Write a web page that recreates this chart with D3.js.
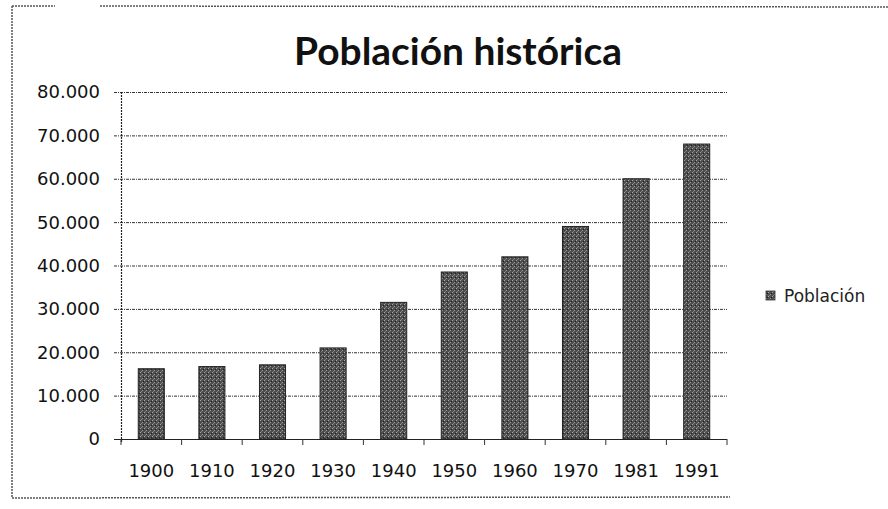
<!DOCTYPE html>
<html>
<head>
<meta charset="utf-8">
<script src="https://cdn.jsdelivr.net/npm/d3@7"></script>
<style>
  html, body { margin: 0; padding: 0; background: #fff; }
  svg { display: block; }
</style>
</head>
<body>
<svg id="chart" width="888" height="509"></svg>
<script>
// ---- data ----
const title = "Población histórica";
const seriesName = "Población";
const years = ["1900", "1910", "1920", "1930", "1940", "1950", "1960", "1970", "1981", "1991"];
const population = [16200, 16700, 17100, 21000, 31500, 38500, 42000, 49000, 60000, 68000];
const yTicks = [0, 10000, 20000, 30000, 40000, 50000, 60000, 70000, 80000];

// ---- layout ----
const W = 888, H = 509;
const plot = { left: 121, right: 727, top: 92, bottom: 439 };

const svg = d3.select("#chart");

// bar texture (scanned halftone look)
const defs = svg.append("defs");
const pat = defs.append("pattern")
  .attr("id", "halftone").attr("patternUnits", "userSpaceOnUse")
  .attr("width", 4).attr("height", 4);
pat.append("rect").attr("width", 4).attr("height", 4).attr("fill", "#4e4e4e");
pat.append("rect").attr("x", 0).attr("y", 0).attr("width", 1).attr("height", 1).attr("fill", "#a8a8a8");
pat.append("rect").attr("x", 2).attr("y", 2).attr("width", 1).attr("height", 1).attr("fill", "#9a9a9a");
pat.append("rect").attr("x", 3).attr("y", 1).attr("width", 1).attr("height", 1).attr("fill", "#1e1e1e");
pat.append("rect").attr("x", 1).attr("y", 3).attr("width", 1).attr("height", 1).attr("fill", "#7e7e7e");

// outer chart frame (partial, as in the scan)
const frame = svg.append("g").attr("stroke", "#555").attr("stroke-width", 1.5).attr("fill", "none")
  .attr("stroke-dasharray", "2,1");
frame.append("line").attr("x1", 12).attr("y1", 6).attr("x2", 12).attr("y2", 498);
frame.append("line").attr("x1", 12).attr("y1", 6).attr("x2", 55).attr("y2", 6);
frame.append("line").attr("x1", 100).attr("y1", 6).attr("x2", 888).attr("y2", 7);
frame.append("line").attr("x1", 12).attr("y1", 498).attr("x2", 730).attr("y2", 497);

// scales
const x = d3.scaleBand().domain(years).range([plot.left, plot.right])
  .paddingInner(0.57).paddingOuter(0.285);
const y = d3.scaleLinear().domain([0, 80000]).range([plot.bottom, plot.top]);

const fmt = v => v === 0 ? "0" : d3.format(",")(v).replace(/,/g, ".");

// gridlines
svg.append("g")
  .selectAll("line").data(yTicks).join("line")
  .attr("x1", plot.left - 7).attr("x2", plot.right)
  .attr("y1", d => y(d) + 0.5).attr("y2", d => y(d) + 0.5)
  .attr("stroke", "#333").attr("stroke-width", 1)
  .attr("stroke-dasharray", "3,1,1,1");

// y axis labels
svg.append("g")
  .selectAll("text").data(yTicks).join("text")
  .attr("x", plot.left - 21).attr("y", d => y(d))
  .attr("dy", "0.36em")
  .attr("text-anchor", "end")
  .attr("font-family", "DejaVu Sans, Verdana, sans-serif")
  .attr("font-size", 18)
  .attr("fill", "#111")
  .text(fmt);

// y axis line
svg.append("line")
  .attr("x1", plot.left + 0.5).attr("x2", plot.left + 0.5)
  .attr("y1", plot.top).attr("y2", plot.bottom + 4)
  .attr("stroke", "#222").attr("stroke-width", 1.2)
  .attr("stroke-dasharray", "2,1");

// bars
svg.append("g")
  .selectAll("rect").data(years).join("rect")
  .attr("x", d => x(d))
  .attr("y", (d, i) => y(population[i]))
  .attr("width", x.bandwidth())
  .attr("height", (d, i) => y(0) - y(population[i]))
  .attr("fill", "url(#halftone)")
  .attr("stroke", "#222").attr("stroke-width", 1);

// x axis baseline + tick marks between categories
svg.append("line")
  .attr("x1", plot.left - 7).attr("x2", plot.right)
  .attr("y1", y(0) + 0.5).attr("y2", y(0) + 0.5)
  .attr("stroke", "#222").attr("stroke-width", 1.2);
const step = x.step();
const bounds = d3.range(years.length + 1).map(i => plot.left + i * step);
svg.append("g")
  .selectAll("line").data(bounds).join("line")
  .attr("x1", d => d).attr("x2", d => d)
  .attr("y1", y(0)).attr("y2", y(0) + 6)
  .attr("stroke", "#333").attr("stroke-width", 1);

// x labels
svg.append("g")
  .selectAll("text").data(years).join("text")
  .attr("x", d => x(d) + x.bandwidth() / 2)
  .attr("y", 477)
  .attr("text-anchor", "middle")
  .attr("font-family", "DejaVu Sans, Verdana, sans-serif")
  .attr("font-size", 18)
  .attr("fill", "#111")
  .text(d => d);

// title
const t = svg.append("text")
  .attr("x", 458).attr("y", 65)
  .attr("text-anchor", "middle")
  .attr("font-family", "Lato, 'Open Sans', sans-serif")
  .attr("font-weight", 700)
  .attr("font-size", 34)
  .attr("fill", "#111")
  .text(title);
const tw = t.node().getComputedTextLength();
t.attr("font-size", 34 * 328 / tw);

// legend
const lg = svg.append("g");
lg.append("rect").attr("x", 766).attr("y", 291).attr("width", 9).attr("height", 9)
  .attr("fill", "url(#halftone)").attr("stroke", "#333").attr("stroke-width", 0.8);
lg.append("text").attr("x", 784).attr("y", 296).attr("dy", "0.36em")
  .attr("font-family", "DejaVu Sans, Verdana, sans-serif")
  .attr("font-size", 17).attr("fill", "#222")
  .text(seriesName);
</script>
</body>
</html>
